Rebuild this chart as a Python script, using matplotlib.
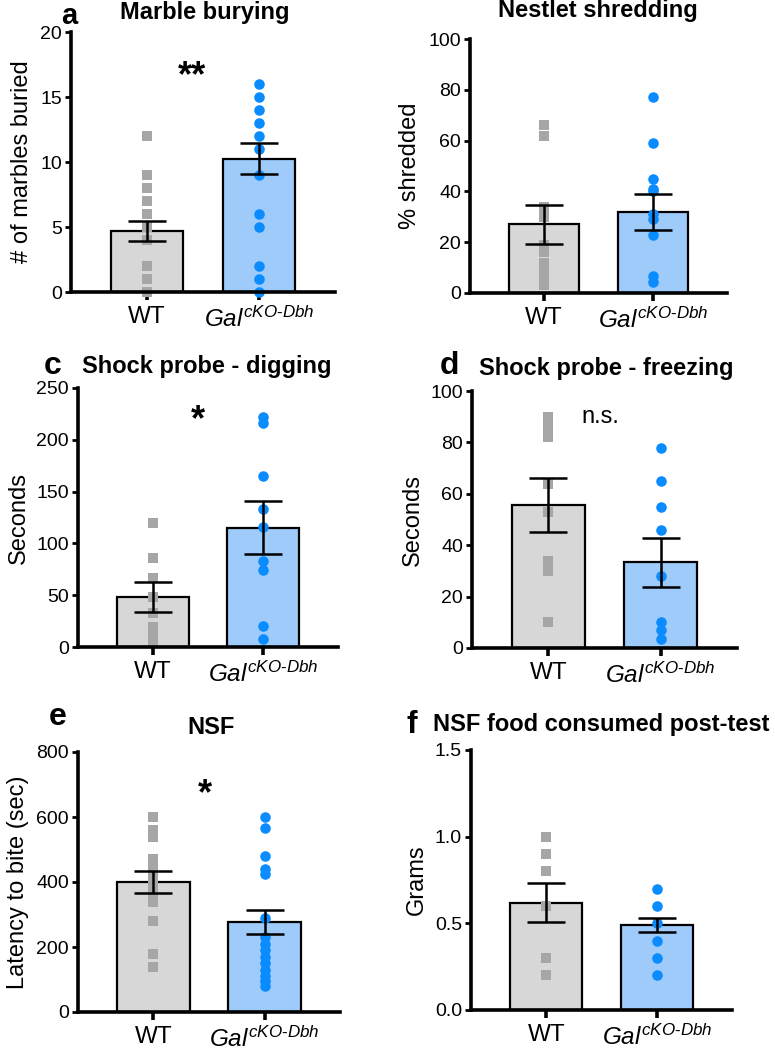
import numpy as np
import matplotlib.pyplot as plt

plt.rcParams['font.family'] = ['Liberation Sans', 'DejaVu Sans']
plt.rcParams['mathtext.fontset'] = 'custom'
plt.rcParams['mathtext.it'] = 'Liberation Sans:italic'
plt.rcParams['mathtext.rm'] = 'Liberation Sans'

groups = ["WT", "$\\mathit{Gal}^{\\mathit{cKO\u2010Dbh}}$"]

# a: marble burying
marble_wt = [12, 9, 8, 7, 6, 5, 4, 4, 2, 1, 0, 0]
marble_ko = [16, 15, 14, 13, 12, 11, 9, 6, 5, 2, 1, 0]
marble_mean = [4.7, 10.25]
marble_sem = [0.8, 1.2]

# b: nestlet shredding
nestlet_wt = [66, 62, 34, 30, 19, 16, 12, 9, 6, 3]
nestlet_ko = [77, 59, 45, 41, 40, 31, 29, 23, 6.5, 4.5]
nestlet_mean = [27, 32]
nestlet_sem = [7.7, 7.1]

# c: shock probe digging
digging_wt = [120, 86, 67, 48, 33, 19, 11, 5]
digging_ko = [222, 216, 165, 133, 116, 83, 74, 20, 8]
digging_mean = [48.5, 115]
digging_sem = [14.5, 25.7]

# d: shock probe freezing
freezing_wt = [90, 87, 84, 82, 64, 53, 34, 30, 10]
freezing_ko = [78, 65, 55, 46, 28, 10, 7, 3.5]
freezing_mean = [55.7, 33.3]
freezing_sem = [10.5, 9.4]

# e: NSF latency
nsf_wt = [600, 560, 540, 470, 450, 430, 410, 390, 370, 340, 280, 180, 140]
nsf_ko = [600, 565, 480, 440, 425, 290, 230, 210, 190, 170, 150, 130, 110, 95, 80]
nsf_mean = [400, 277]
nsf_sem = [34, 38]

# f: food consumed
food_wt = [1.0, 0.9, 0.8, 0.6, 0.3, 0.2]
food_ko = [0.7, 0.6, 0.5, 0.4, 0.3, 0.2]
food_mean = [0.62, 0.49]
food_sem = [0.115, 0.04]

W, H = 775, 1050
bar_colors = ["#d7d7d7", "#9fcbfa"]
pt_colors = ["#a6a6a6", "#0a8cff"]
markers = ["s", "o"]


def px(l, t, r, b):
    return [l / W, 1 - b / H, (r - l) / W, (b - t) / H]


def panel(rect, wt, ko, mean, sem, ylim, yticks, ylabel, fmt=None):
    ax = fig.add_axes(px(*rect))
    x = np.arange(2)
    ax.bar(x, mean, width=0.65, color=bar_colors, edgecolor="black",
           linewidth=1.6, zorder=1)
    for i, vals in enumerate([wt, ko]):
        ax.plot(np.full(len(vals), x[i]), vals, ls="none", marker=markers[i],
                ms=7.6, mew=0, color=pt_colors[i], zorder=2, clip_on=False)
    ax.errorbar(x, mean, yerr=sem, fmt="none", ecolor="black", elinewidth=1.8,
                capsize=14, capthick=1.8, zorder=3)
    ax.set_xlim(-0.68, 1.68)
    ax.set_ylim(*ylim)
    ax.set_yticks(yticks)
    if fmt:
        ax.set_yticklabels([fmt % v for v in yticks])
    ax.set_xticks(x)
    ax.set_xticklabels(groups, fontsize=17.5)
    ax.set_ylabel(ylabel, fontsize=17, labelpad=5)
    for s in ["top", "right"]:
        ax.spines[s].set_visible(False)
    for s in ["left", "bottom"]:
        ax.spines[s].set_linewidth(2.6)
    ax.tick_params(axis="y", labelsize=14, width=2, length=4.5, pad=2)
    ax.tick_params(axis="x", width=2.6, length=6, pad=4)
    return ax


def label(x, y, s, size=17, weight="bold", ha="center"):
    fig.text(x / W, 1 - y / H, s, fontsize=size, fontweight=weight,
             ha=ha, va="center")


fig = plt.figure(figsize=(W / 100, H / 100), dpi=100)

ax = panel((71, 32, 335, 292), marble_wt, marble_ko, marble_mean, marble_sem,
           (0, 20), [0, 5, 10, 15, 20], "# of marbles buried")
ax.text(0.4, 16.6, "**", fontsize=26, fontweight="bold", ha="center", va="center")

panel((470, 39, 727, 293), nestlet_wt, nestlet_ko, nestlet_mean, nestlet_sem,
      (0, 100), [0, 20, 40, 60, 80, 100], "% shredded")

ax = panel((78, 388, 338, 647), digging_wt, digging_ko, digging_mean, digging_sem,
           (0, 250), [0, 50, 100, 150, 200, 250], "Seconds")
ax.text(0.41, 218, "*", fontsize=26, fontweight="bold", ha="center", va="center")

ax = panel((472, 391, 737, 648), freezing_wt, freezing_ko, freezing_mean,
           freezing_sem, (0, 100), [0, 20, 40, 60, 80, 100], "Seconds")
ax.text(0.46, 90, "n.s.", fontsize=17, ha="center", va="center")

ax = panel((78, 752, 340, 1012), nsf_wt, nsf_ko, nsf_mean, nsf_sem,
           (0, 800), [0, 200, 400, 600, 800], "Latency to bite (sec)")
ax.text(0.46, 670, "*", fontsize=26, fontweight="bold", ha="center", va="center")

panel((471, 750, 732, 1010), food_wt, food_ko, food_mean, food_sem,
      (0, 1.5), [0, 0.5, 1.0, 1.5], "Grams", fmt="%.1f")

label(69, 16, "a", size=21)
label(205, 13, "Marble burying")
label(598, 11, "Nestlet shredding")
label(53, 366, "c", size=23)
label(207, 367, "Shock probe - digging")
label(449, 366, "d", size=23)
label(606, 369, "Shock probe - freezing")
label(58, 717, "e", size=23)
label(211, 727, "NSF")
label(412, 725, "f", size=23)
label(601, 725, "NSF food consumed post-test")

fig.savefig("out.png", dpi=100)
